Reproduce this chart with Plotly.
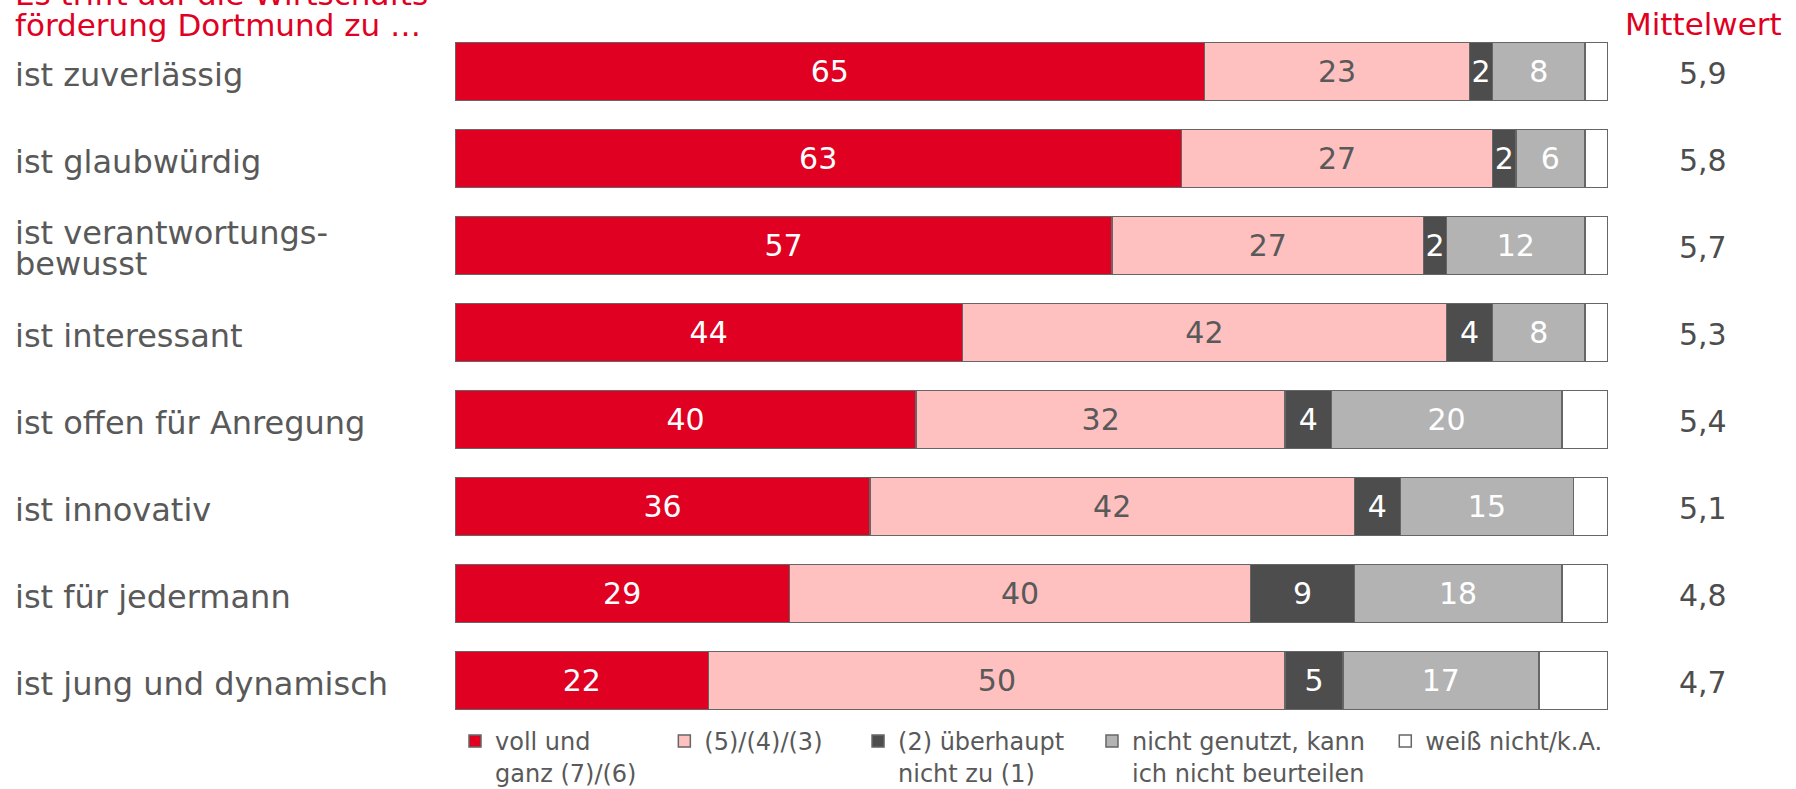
import plotly.graph_objects as go

categories = ["ist zuverlässig", "ist glaubwürdig", "ist verantwortungs-<br>bewusst",
              "ist interessant", "ist offen für Anregung", "ist innovativ",
              "ist für jedermann", "ist jung und dynamisch"]
voll_und_ganz = [65, 63, 57, 44, 40, 36, 29, 22]
mittel_543 = [23, 27, 27, 42, 32, 42, 40, 50]
ueberhaupt_nicht = [2, 2, 2, 4, 4, 4, 9, 5]
nicht_genutzt = [8, 6, 12, 8, 20, 15, 18, 17]
weiss_nicht = [2, 2, 2, 2, 4, 3, 4, 6]
mittelwert = [5.9, 5.8, 5.7, 5.3, 5.4, 5.1, 4.8, 4.7]

NB = "\u00a0"
series_names = ["voll und<br>ganz (7)/(6)" + NB * 3,
                "(5)/(4)/(3)" + NB * 4,
                "(2) überhaupt" + NB * 3 + "<br>nicht zu (1)",
                "nicht genutzt, kann" + NB * 2 + "<br>ich nicht beurteilen" + NB * 2,
                "weiß nicht/k.A."]

FONT = "DejaVu Sans"
colors = ["#E00022", "#FFC0C0", "#4D4D4D", "#B3B3B3", "#FFFFFF"]
text_colors = ["#FFFFFF", "#595959", "#FFFFFF", "#FFFFFF", "#FFFFFF"]
series = [voll_und_ganz, mittel_543, ueberhaupt_nicht, nicht_genutzt, weiss_nicht]

fig = go.Figure()
for i, (name, vals) in enumerate(zip(series_names, series)):
    fig.add_trace(go.Bar(
        y=categories, x=vals, name=name, orientation="h",
        marker=dict(color=colors[i], line=dict(color="#666666", width=1.5)),
        text=[str(v) for v in vals] if i < 4 else None,
        textposition="inside" if i < 4 else "none",
        insidetextanchor="middle",
        textfont=dict(family=FONT, size=30, color=text_colors[i]),
        hoverinfo="skip",
    ))

W, H = 1796, 789
ml, mr, mt, mb = 455, 188, 28, 65
pw = W - ml - mr
ph = H - mt - mb

def px_x(px):
    return (px - ml) / pw

def px_y(py):
    return (H - mb - py) / ph

LINE = 31
annotations = []
for c in categories:
    lines = c.split("<br>")
    n = len(lines)
    for k, ln in enumerate(lines):
        annotations.append(dict(x=px_x(13), xref="paper", y=c, yref="y", text=ln,
                                xanchor="left", yanchor="middle", align="left", showarrow=False,
                                yshift=-((k - (n - 1) / 2) * LINE) - 3,
                                font=dict(family=FONT, size=32, color="#595959")))
for c, m in zip(categories, mittelwert):
    annotations.append(dict(x=px_x(1703), xref="paper", y=c, yref="y",
                            text=f"{m:.1f}".replace(".", ","),
                            xanchor="center", yanchor="middle", showarrow=False,
                            yshift=-2,
                            font=dict(family=FONT, size=30, color="#4D4D4D")))
annotations.append(dict(x=px_x(1703), xref="paper", y=px_y(24), yref="paper", text="Mittelwert",
                        xanchor="center", yanchor="middle", showarrow=False,
                        font=dict(family=FONT, size=31, color="#E00022")))
title_lines = ["Es trifft auf die Wirtschafts-", "förderung Dortmund zu …"]
for k, ln in enumerate(title_lines):
    annotations.append(dict(x=px_x(13), xref="paper", y=px_y(25 - (1 - k) * LINE), yref="paper",
                            text=ln, xanchor="left", yanchor="middle", align="left",
                            showarrow=False,
                            font=dict(family=FONT, size=31, color="#E00022")))

fig.update_layout(
    width=W, height=H,
    margin=dict(l=ml, r=mr, t=mt, b=mb, autoexpand=False),
    barmode="stack", bargap=0.333,
    plot_bgcolor="white", paper_bgcolor="white",
    font=dict(family=FONT, color="#595959"),
    uniformtext=dict(minsize=30, mode="show"),
    xaxis=dict(range=[0, 100], visible=False, fixedrange=True),
    yaxis=dict(type="category", categoryorder="array", categoryarray=categories,
               autorange="reversed", showticklabels=False, showgrid=False, zeroline=False),
    legend=dict(orientation="h", x=0, xanchor="left", y=px_y(719), yanchor="top",
                valign="top", traceorder="normal",
                font=dict(family=FONT, size=24, color="#595959")),
    annotations=annotations,
    showlegend=True,
)

fig.write_html("out.html")
